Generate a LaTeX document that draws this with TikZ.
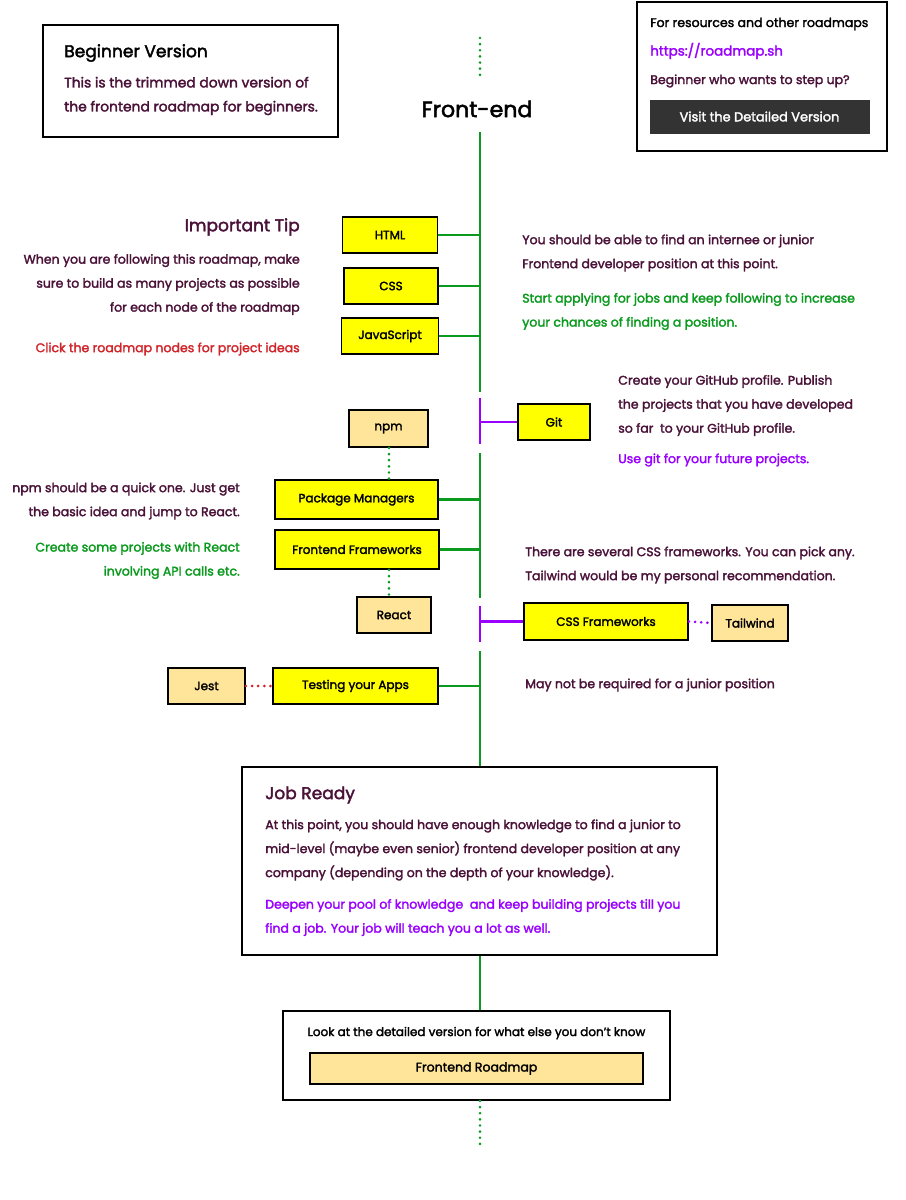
\documentclass[tikz,border=0pt]{standalone}
\usepackage{fontspec}
\setmainfont[FakeBold=2.2]{Poppins}
\usetikzlibrary{positioning}

\definecolor{rmGreen}{HTML}{0A9A1E}
\definecolor{rmPurple}{HTML}{9900FF}
\definecolor{rmMaroon}{HTML}{4A1238}
\definecolor{rmRed}{HTML}{D0262B}
\definecolor{rmTopic}{HTML}{FFFF00}
\definecolor{rmSub}{HTML}{FFE599}
\definecolor{rmButton}{HTML}{333333}

\begin{document}
\begin{tikzpicture}[x=0.75pt,y=-0.75pt,
  boxsize/.style 2 args={minimum width=#1*0.75pt, minimum height=#2*0.75pt},
  topic/.style={draw=black, line width=1.4pt, fill=rmTopic, inner sep=0pt, font=\fontsize{9}{10}\selectfont},
  subtopic/.style={topic, fill=rmSub},
  panel/.style={draw=black, line width=1.4pt, fill=white, inner sep=0pt},
  note/.style={inner sep=0pt, text=rmMaroon, font=\fontsize{9.4}{18}\selectfont},
  heading/.style={inner sep=0pt, font=\fontsize{12.8}{14}\selectfont},
  spine/.style={rmGreen, line width=2.2pt},
  branch/.style={rmPurple, line width=2.2pt},
  dots/.style={line width=2.2pt, line cap=round, dash pattern=on 0pt off 4.6pt}]

\useasboundingbox (0,0) rectangle (906,1200);

% info panels
\node[panel, boxsize={295}{112}] (beginner) at (190.5,81) {};
\node[heading, anchor=west] (begtitle) at (64,53) {Beginner Version};
\node[note, font=\fontsize{10.4}{18}\selectfont, anchor=west, align=left] (begtext) at (64,96) {This is the trimmed down version of\\the frontend roadmap for beginners.};

\node[panel, boxsize={250}{149}] (resources) at (762,76.5) {};
\node[note, text=black, anchor=west] (restext) at (650,24) {For resources and other roadmaps};
\node[note, font=\fontsize{10.1}{12}\selectfont, text=rmPurple, anchor=west] (reslink) at (650,51) {https://roadmap.sh};
\node[note, anchor=west] (resask) at (650,81) {Beginner who wants to step up?};
\node[draw=rmButton, fill=rmButton, text=white, boxsize={219}{33}, font=\fontsize{9.7}{10}\selectfont] (detailed) at (759.5,116.5) {Visit the Detailed Version};

\node[font=\fontsize{16.6}{18}\selectfont, inner sep=0pt] (frontend) at (477,109) {Front-end};

% spine
\coordinate (top0) at (480,38);
\coordinate (top1) at (480,80);
\coordinate (a0) at (480,132);
\coordinate (a1) at (480,392);
\coordinate (b0) at (480,398);
\coordinate (b1) at (480,444);
\coordinate (c0) at (480,453);
\coordinate (c1) at (480,598);
\coordinate (d0) at (480,606);
\coordinate (d1) at (480,642);
\coordinate (e0) at (480,651);
\coordinate (end1) at (480,1148);

% topics
\node[topic, boxsize={95}{36}] (html) at (390,235) {HTML};
\node[topic, boxsize={94}{36}] (css) at (391,286) {CSS};
\node[topic, boxsize={97}{36}] (js) at (390,336) {JavaScript};
\node[topic, boxsize={72}{36}] (git) at (554,422) {Git};
\node[subtopic, boxsize={79}{37}] (npm) at (388.5,428.5) {npm};
\node[topic, boxsize={163}{39}] (pkg) at (356.5,499.5) {Package Managers};
\node[topic, boxsize={164}{39}] (fw) at (357,549.5) {Frontend Frameworks};
\node[subtopic, boxsize={74}{36}] (react) at (394,615) {React};
\node[topic, boxsize={164}{37}] (cssfw) at (606,621.5) {CSS Frameworks};
\node[subtopic, boxsize={76}{36}] (tailwind) at (750,623) {Tailwind};
\node[topic, boxsize={165}{36}] (testing) at (355.5,686) {Testing your Apps};
\node[subtopic, boxsize={77}{36}] (jest) at (206.5,686) {Jest};

\node[panel, boxsize={475}{188}] (jobready) at (479.5,861) {};
\node[panel, boxsize={387}{89}] (more) at (476.5,1055.5) {};
\node[note, font=\fontsize{9}{12}\selectfont, text=black] (moretext) at (476.5,1033) {Look at the detailed version for what else you don’t know};
\node[subtopic, boxsize={333}{31}, font=\fontsize{9.4}{10}\selectfont] (roadmap) at (476.5,1068.5) {Frontend Roadmap};

% connectors
\draw[spine, dots] (top0) -- (top1);
\draw[spine] (a0) -- (a1);
\draw[branch] (b0) -- (b1);
\draw[spine] (c0) -- (c1);
\draw[branch] (d0) -- (d1);
\draw[spine] (e0) -- (e0 |- jobready.north);
\draw[spine] (jobready.south -| e0) -- (more.north -| e0);
\draw[spine, dots] (more.south -| e0) -- (end1);

\draw[spine] (html.east) -- (html.east -| a0);
\draw[spine] (css.east) -- (css.east -| a0);
\draw[spine] (js.east) -- (js.east -| a0);
\draw[branch] (git.west -| b0) -- (git.west);
\draw[spine, dots] (npm.south -| 389,0) -- (pkg.north -| 389,0);
\draw[spine] (pkg.east) -- (pkg.east -| c0);
\draw[spine] (fw.east) -- (fw.east -| c0);
\draw[spine, dots] (fw.south -| 389,0) -- (react.north -| 389,0);
\draw[branch] (cssfw.west -| d0) -- (cssfw.west);
\draw[branch, dots] (cssfw.east) -- (tailwind.west);
\draw[spine] (testing.east) -- (testing.east -| e0);
\draw[rmRed, line width=2.2pt, dots] (jest.east) -- (testing.west);

% notes
\node[heading, text=rmMaroon, anchor=east] (tiptitle) at (300,227) {Important Tip};
\node[note, anchor=east, align=right] (tiptext) at (300,284.5) {When you are following this roadmap, make\\sure to build as many projects as possible\\for each node of the roadmap};
\node[note, text=rmRed, anchor=east] (tipclick) at (300,349) {Click the roadmap nodes for project ideas};

\node[note, anchor=west, align=left] (intern) at (522,253) {You should be able to find an internee or junior\\Frontend developer position at this point.};
\node[note, text=rmGreen, anchor=west, align=left] (apply) at (522,311.5) {Start applying for jobs and keep following to increase\\your chances of finding a position.};

\node[note, anchor=west, align=left] (github) at (618,405.5) {Create your GitHub profile. Publish\\the projects that you have developed\\so far\ \ to your GitHub profile.};
\node[note, text=rmPurple, anchor=west] (usegit) at (618,460) {Use git for your future projects.};

\node[note, anchor=east, align=right] (npmnote) at (240,501) {npm should be a quick one. Just get\\the basic idea and jump to React.};
\node[note, text=rmGreen, anchor=east, align=right] (reactnote) at (240,560.5) {Create some projects with React\\involving API calls etc.};

\node[note, anchor=west, align=left] (cssnote) at (525,565) {There are several CSS frameworks. You can pick any.\\Tailwind would be my personal recommendation.};
\node[note, anchor=west] (testnote) at (525,685) {May not be required for a junior position};

\node[heading, text=rmMaroon, anchor=west] (jobtitle) at (265,795) {Job Ready};
\node[note, anchor=west, align=left] (jobtext) at (265,850) {At this point, you should have enough knowledge to find a junior to\\mid-level (maybe even senior) frontend developer position at any\\company (depending on the depth of your knowledge).};
\node[note, text=rmPurple, anchor=west, align=left] (jobmore) at (265,917.5) {Deepen your pool of knowledge\ \ and keep building projects till you\\find a job. Your job will teach you a lot as well.};

\end{tikzpicture}
\end{document}
